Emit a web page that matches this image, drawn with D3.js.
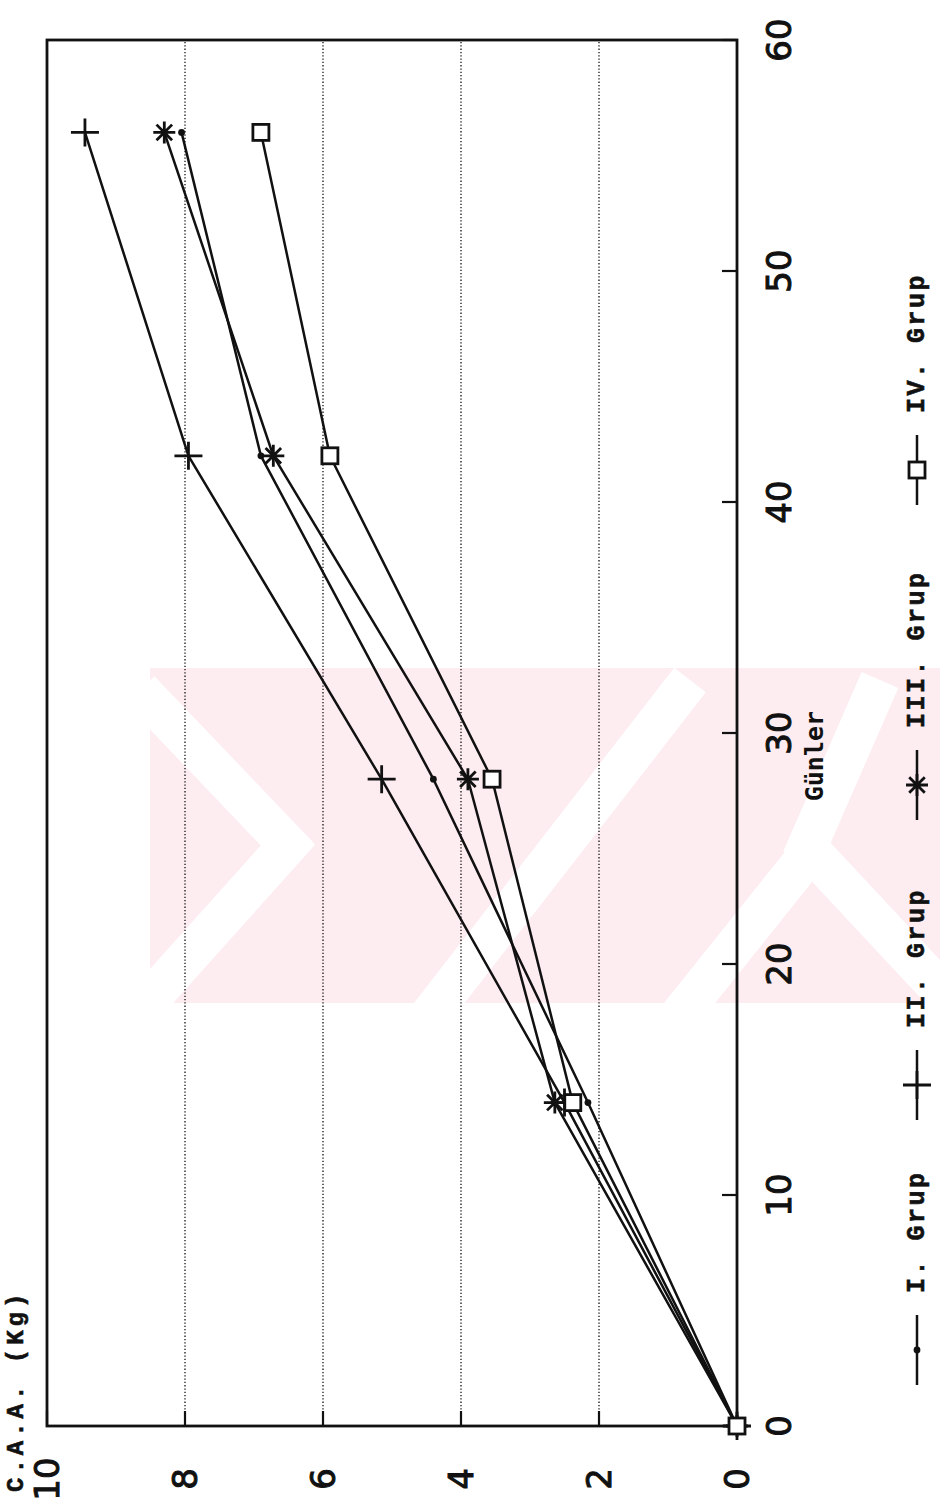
<!DOCTYPE html>
<html>
<head>
<meta charset="utf-8">
<script src="https://cdn.jsdelivr.net/npm/d3@7"></script>
<style>
  html, body { margin: 0; padding: 0; background: #fff; }
  svg { display: block; }
</style>
</head>
<body>
<svg id="chart" width="940" height="1510"></svg>
<script>
// ---- data ----
const days = [0, 14, 28, 42, 56];
const grup1 = [0, 2.16, 4.4, 6.9, 8.05];
const grup2 = [0, 2.5, 5.15, 7.95, 9.45];
const grup3 = [0, 2.64, 3.9, 6.72, 8.3];
const grup4 = [0, 2.38, 3.55, 5.9, 6.9];
const seriesNames = ["I. Grup", "II. Grup", "III. Grup", "IV. Grup"];
const markerTypes = ["dot", "plus", "star", "square"];
const dayTicks = [0, 10, 20, 30, 40, 50, 60];
const valueTicks = [0, 2, 4, 6, 8, 10];
const xTitle = "Günler";
const yTitle = "C.A.A.  (Kg)";

const allSeries = [grup1, grup2, grup3, grup4];

const svg = d3.select("#chart");

// faint background watermark (decorative)
const wm = svg.append("g");
wm.append("rect").attr("x", 150).attr("y", 668).attr("width", 790).attr("height", 335).attr("fill", "#fdecf0");
const wmWhite = [
  [[140, 690], [288, 845], [140, 1010]],
  [[690, 680], [430, 1015]],
  [[880, 680], [807, 847], [950, 1000]],
  [[812, 850], [680, 1015]]
];
wmWhite.forEach(p => wm.append("path").attr("d", d3.line()(p)).attr("fill", "none").attr("stroke", "#fff").attr("stroke-width", 40));
wm.append("rect").attr("x", 100).attr("y", 600).attr("width", 840).attr("height", 68).attr("fill", "#fff");
wm.append("rect").attr("x", 100).attr("y", 1003).attr("width", 840).attr("height", 60).attr("fill", "#fff");

// rotated chart frame: local x -> page bottom-to-top, local y -> page x
const g = svg.append("g").attr("transform", "translate(0,1510) rotate(-90)");

const x = d3.scaleLinear().domain([0, 60]).range([84, 1470]);
const y = d3.scaleLinear().domain([0, 10]).range([737, 47]);

const ink = "#111";

// gridlines
g.append("g").selectAll("line").data(valueTicks.filter(v => v > 0 && v < 10)).join("line")
  .attr("x1", x(0)).attr("x2", x(60))
  .attr("y1", d => y(d)).attr("y2", d => y(d))
  .attr("stroke", "#222").attr("stroke-width", 1.4).attr("stroke-dasharray", "1.3,2");

// frame
g.append("rect").attr("x", x(0)).attr("y", y(10))
  .attr("width", x(60) - x(0)).attr("height", y(0) - y(10))
  .attr("fill", "none").attr("stroke", ink).attr("stroke-width", 2.8);

// inward ticks on value axis (local left)
g.append("g").selectAll("line").data(valueTicks).join("line")
  .attr("x1", x(0)).attr("x2", x(0) + 15)
  .attr("y1", d => y(d)).attr("y2", d => y(d))
  .attr("stroke", ink).attr("stroke-width", 2.2);

// inward ticks on day axis (local bottom)
g.append("g").selectAll("line").data(dayTicks).join("line")
  .attr("x1", d => x(d)).attr("x2", d => x(d))
  .attr("y1", y(0)).attr("y2", y(0) - 15)
  .attr("stroke", ink).attr("stroke-width", 2.2);

// tick labels
const numFont = "'DejaVu Sans', sans-serif";
g.append("g").selectAll("text").data(dayTicks).join("text")
  .attr("x", d => x(d)).attr("y", 779)
  .attr("text-anchor", "middle").attr("dominant-baseline", "central")
  .attr("font-family", numFont).attr("font-size", 34).attr("fill", ink)
  .attr("stroke", ink).attr("stroke-width", 1)
  .text(d => d);

g.append("g").selectAll("text").data(valueTicks).join("text")
  .attr("x", 31).attr("y", d => y(d))
  .attr("text-anchor", "middle").attr("dominant-baseline", "central")
  .attr("font-family", numFont).attr("font-size", 34).attr("fill", ink)
  .attr("stroke", ink).attr("stroke-width", 1)
  .text(d => d);

// axis titles
const monoFont = "'Liberation Mono', 'DejaVu Sans Mono', monospace";
g.append("text").attr("x", x(29)).attr("y", 814)
  .attr("text-anchor", "middle").attr("dominant-baseline", "central")
  .attr("font-family", "'DejaVu Sans Mono', monospace").attr("font-weight", "bold")
  .attr("font-size", 25).attr("fill", ink).text(xTitle);

g.append("text").attr("x", 18).attr("y", 16)
  .attr("text-anchor", "start").attr("dominant-baseline", "central")
  .attr("font-family", monoFont).attr("font-weight", "bold")
  .attr("font-size", 24).attr("letter-spacing", 4).attr("fill", ink)
  .attr("stroke", ink).attr("stroke-width", 0.6).text(yTitle);

// markers
function drawMarker(sel, type, cx, cy) {
  if (type === "dot") {
    sel.append("circle").attr("cx", cx).attr("cy", cy).attr("r", 3.4).attr("fill", ink);
  } else if (type === "plus") {
    sel.append("path").attr("d", `M${cx - 14},${cy}H${cx + 14}M${cx},${cy - 14}V${cy + 14}`)
      .attr("stroke", ink).attr("stroke-width", 2.8).attr("fill", "none");
  } else if (type === "star") {
    let d = "";
    for (let k = 0; k < 4; k++) {
      const a = k * Math.PI / 4;
      const dx = 11 * Math.cos(a), dy = 11 * Math.sin(a);
      d += `M${cx - dx},${cy - dy}L${cx + dx},${cy + dy}`;
    }
    sel.append("path").attr("d", d).attr("stroke", ink).attr("stroke-width", 2.8).attr("fill", "none");
  } else if (type === "square") {
    sel.append("rect").attr("x", cx - 8).attr("y", cy - 8).attr("width", 16).attr("height", 16)
      .attr("fill", "#fff").attr("stroke", ink).attr("stroke-width", 2.8);
  }
}

// series lines
const line = d3.line().x((d, i) => x(days[i])).y(d => y(d));
allSeries.forEach((s) => {
  g.append("path").datum(s).attr("d", line)
    .attr("fill", "none").attr("stroke", ink).attr("stroke-width", 2.5).attr("stroke-linejoin", "round");
});
allSeries.forEach((s, si) => {
  const mg = g.append("g");
  s.forEach((v, i) => drawMarker(mg, markerTypes[si], x(days[i]), y(v)));
});

// legend (local coordinates along the day direction)
const legendStarts = [125, 390, 690, 1005];
const legY = 917;
seriesNames.forEach((name, i) => {
  const lx = legendStarts[i];
  const lg = g.append("g");
  lg.append("line").attr("x1", lx).attr("x2", lx + 70).attr("y1", legY).attr("y2", legY)
    .attr("stroke", ink).attr("stroke-width", 2.5);
  drawMarker(lg, markerTypes[i], lx + 35, legY);
  lg.append("text").attr("x", lx + 92).attr("y", legY)
    .attr("dominant-baseline", "central")
    .attr("font-family", monoFont).attr("font-weight", "bold")
    .attr("font-size", 25).attr("letter-spacing", 2.5).attr("fill", ink)
    .attr("stroke", ink).attr("stroke-width", 0.6).text(name);
});
</script>
</body>
</html>
